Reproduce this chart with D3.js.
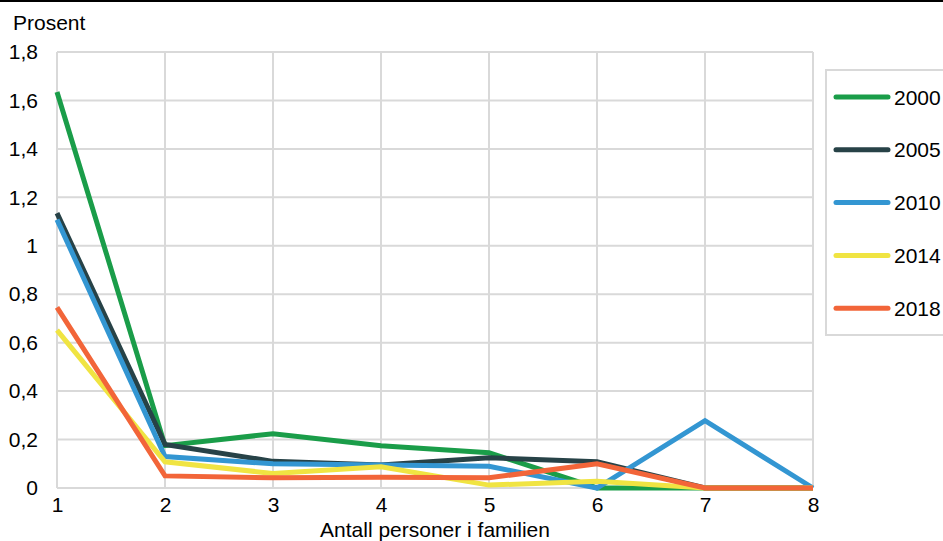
<!DOCTYPE html>
<html><head><meta charset="utf-8">
<script src="https://cdn.jsdelivr.net/npm/d3@7"></script>
<style>body{margin:0;background:#fff}svg{display:block;font-family:"Liberation Sans",Arial,sans-serif}</style>
</head><body><svg id="c" width="943" height="541"></svg>
<script>
const categories = [1, 2, 3, 4, 5, 6, 7, 8];
const yTicks = [0, 0.2, 0.4, 0.6, 0.8, 1, 1.2, 1.4, 1.6, 1.8];
const seriesNames = ["2000", "2005", "2010", "2014", "2018"];
const s2000 = [1.635, 0.175, 0.224, 0.174, 0.146, 0.0, 0.0, 0.0];
const s2005 = [1.135, 0.18, 0.11, 0.095, 0.125, 0.108, 0.0, 0.0];
const s2010 = [1.108, 0.13, 0.10, 0.095, 0.09, 0.0, 0.278, 0.0];
const s2014 = [0.652, 0.108, 0.06, 0.088, 0.012, 0.028, 0.0, 0.0];
const s2018 = [0.746, 0.05, 0.042, 0.044, 0.042, 0.10, 0.0, 0.0];
const colors = ["#1a9d49", "#274247", "#3396d2", "#f0e442", "#f26539"];
const seriesValues = [s2000, s2005, s2010, s2014, s2018];

const svg = d3.select("#c");
const x = d3.scaleLinear().domain([1, 8]).range([57, 813]);
const y = d3.scaleLinear().domain([0, 1.8]).range([488, 52]);
const fmt = d => String(d).replace(".", ",");

// top border
svg.append("line").attr("x1", 0).attr("x2", 943).attr("y1", 1).attr("y2", 1).attr("stroke", "#000").attr("stroke-width", 2);

// grid
svg.append("g").selectAll("line").data(yTicks).join("line")
  .attr("x1", x(1)).attr("x2", x(8)).attr("y1", d => y(d)).attr("y2", d => y(d))
  .attr("stroke", "#d9d9d9").attr("stroke-width", 2);
svg.append("g").selectAll("line").data(categories).join("line")
  .attr("x1", d => x(d)).attr("x2", d => x(d)).attr("y1", y(0)).attr("y2", y(1.8))
  .attr("stroke", "#d9d9d9").attr("stroke-width", 2);

// axes
const yAxis = svg.append("g").attr("transform", `translate(${x(1)},0)`)
  .call(d3.axisLeft(y).tickValues(yTicks).tickFormat(fmt).tickSize(0).tickPadding(19));
const xAxis = svg.append("g").attr("transform", `translate(0,${y(0)})`)
  .call(d3.axisBottom(x).tickValues(categories).tickFormat(d3.format("d")).tickSize(0).tickPadding(9));
[yAxis, xAxis].forEach(a => {
  a.select(".domain").remove();
  a.selectAll("text").attr("font-size", 21).attr("fill", "#000").attr("font-family", "Liberation Sans, Arial, sans-serif");
});

svg.append("text").attr("x", 13).attr("y", 30).attr("font-size", 21).text("Prosent");
svg.append("text").attr("x", x(4.5)).attr("y", 537).attr("text-anchor", "middle").attr("font-size", 21).text("Antall personer i familien");

// lines
const line = d3.line().x((d, i) => x(categories[i])).y(d => y(d));
svg.append("g").selectAll("path").data(seriesValues).join("path")
  .attr("d", line).attr("fill", "none")
  .attr("stroke", (d, i) => colors[i]).attr("stroke-width", 5);

// legend
svg.append("rect").attr("x", 826).attr("y", 70).attr("width", 130).attr("height", 265)
  .attr("fill", "#fff").attr("stroke", "#d9d9d9").attr("stroke-width", 2);
const lg = svg.append("g").selectAll("g").data(seriesNames).join("g")
  .attr("transform", (d, i) => `translate(0,${97 + i * 52.8})`);
lg.append("line").attr("x1", 836).attr("x2", 888).attr("y1", 0).attr("y2", 0)
  .attr("stroke", (d, i) => colors[i]).attr("stroke-width", 5).attr("stroke-linecap", "round");
lg.append("text").attr("x", 894).attr("y", 0).attr("dy", "0.36em").attr("font-size", 21).text(d => d);
</script></body></html>
